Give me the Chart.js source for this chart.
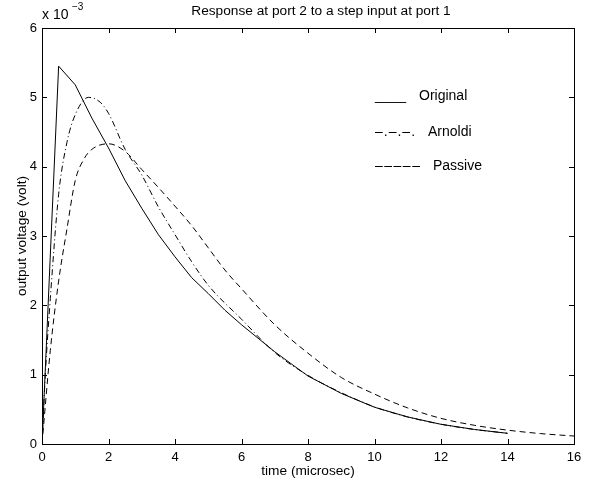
<!DOCTYPE html>
<html>
<head>
<meta charset="utf-8">
<script src="https://cdn.jsdelivr.net/npm/chart.js@4"></script>
<style>
  html, body { margin: 0; padding: 0; background: #fff; }
  #wrap { width: 595px; height: 485px; }
</style>
</head>
<body>
<div id="wrap"><canvas id="rc" width="595" height="485"></canvas></div>
<script>
// values (voltage in units of 1e-3 volt)
const timeOrig = [0, 0.5, 1, 1.5, 2, 2.5, 3, 3.5, 4, 4.5, 5, 5.5, 6, 7, 8, 9, 10, 11, 12, 13, 14];
const voltOrig = [0, 5.45, 5.18, 4.70, 4.27, 3.80, 3.40, 3.02, 2.70, 2.40, 2.17, 1.93, 1.72, 1.33, 0.98, 0.73, 0.53, 0.39, 0.284, 0.21, 0.154];

const timeArn = [0, 0.1, 0.25, 0.5, 0.75, 1, 1.4, 1.75, 2, 2.5, 3, 3.5, 4, 4.5, 5, 6, 7, 8, 9, 10, 11, 12, 13, 14];
const voltArn = [0, 1.0, 2.1, 3.6, 4.35, 4.75, 5.0, 4.93, 4.77, 4.25, 3.88, 3.42, 3.02, 2.63, 2.29, 1.80, 1.32, 0.99, 0.74, 0.535, 0.39, 0.285, 0.21, 0.155];

const timePas = [0, 0.25, 0.5, 0.75, 1, 1.25, 1.5, 2, 2.5, 3, 3.5, 4, 4.5, 5, 5.5, 6, 7, 8, 9, 10, 11, 12, 13, 14, 15, 16];
const voltPas = [0, 1.35, 2.35, 3.1, 3.8, 4.1, 4.25, 4.33, 4.22, 3.96, 3.70, 3.43, 3.15, 2.83, 2.51, 2.24, 1.72, 1.31, 0.96, 0.72, 0.52, 0.37, 0.27, 0.20, 0.15, 0.115];

const xTicks = [0, 2, 4, 6, 8, 10, 12, 14, 16];
const yTicks = [0, 1, 2, 3, 4, 5, 6];

const legendNames = ["Original", "Arnoldi", "Passive"];
const legendMarks = ["____", "\u2013.\u2013.\u2013.", "\u2013\u2013\u2013\u2013\u2013"];

const FONT = "'Liberation Sans', Arial, Helvetica, sans-serif";

function pts(xs, ys) {
  return xs.map((x, i) => ({ x: x, y: ys[i] }));
}

// box, inward ticks and texts like the matlab figure
const decor = {
  id: "decor",
  afterDraw(chart) {
    const ctx = chart.ctx;
    const a = chart.chartArea;
    const xs = chart.scales.x;
    const ys = chart.scales.y;
    ctx.save();
    ctx.strokeStyle = "#000";
    ctx.lineWidth = 1;
    ctx.strokeRect(a.left + 0.5, a.top + 0.5, a.right - a.left, a.bottom - a.top);
    ctx.beginPath();
    xTicks.forEach((v) => {
      const px = Math.round(xs.getPixelForValue(v)) + 0.5;
      ctx.moveTo(px, a.bottom); ctx.lineTo(px, a.bottom - 5);
      ctx.moveTo(px, a.top); ctx.lineTo(px, a.top + 5);
    });
    yTicks.forEach((v) => {
      const py = Math.round(ys.getPixelForValue(v)) + 0.5;
      ctx.moveTo(a.left, py); ctx.lineTo(a.left + 5, py);
      ctx.moveTo(a.right, py); ctx.lineTo(a.right - 5, py);
    });
    ctx.stroke();

    ctx.fillStyle = "#000";
    ctx.textBaseline = "middle";
    // title
    ctx.font = "13.7px " + FONT;
    ctx.textAlign = "center";
    ctx.fillText("Response at port 2 to a step input at port 1", 321, 11);
    // x label
    ctx.fillText("time (microsec)", 308, 471);
    // y label
    ctx.save();
    ctx.translate(22, 236);
    ctx.rotate(-Math.PI / 2);
    ctx.fillText("output voltage (volt)", 0, 0);
    ctx.restore();
    // exponent
    ctx.textAlign = "left";
    ctx.font = "14px " + FONT;
    ctx.fillText("x 10", 42, 15);
    ctx.font = "10px " + FONT;
    ctx.fillText("\u22123", 72, 7);

    // legend
    ctx.font = "14px " + FONT;
    const textX = [419, 428, 433];
    const rowY = [96, 132, 166];
    const spacing = ["0px", "1px", "1.5px"];
    legendNames.forEach((name, i) => {
      ctx.letterSpacing = spacing[i];
      ctx.fillText(legendMarks[i], 375, rowY[i]);
      ctx.letterSpacing = "0px";
      ctx.fillText(name, textX[i], rowY[i]);
    });
    ctx.restore();
  }
};

const lineBase = {
  borderColor: "#000",
  borderWidth: 1,
  pointRadius: 0,
  fill: false,
};

new Chart(document.getElementById("rc"), {
  type: "line",
  data: {
    datasets: [
      Object.assign({ label: legendNames[0], data: pts(timeOrig, voltOrig), tension: 0 }, lineBase),
      Object.assign({ label: legendNames[1], data: pts(timeArn, voltArn), cubicInterpolationMode: "monotone", borderDash: [6, 3, 1, 3] }, lineBase),
      Object.assign({ label: legendNames[2], data: pts(timePas, voltPas), cubicInterpolationMode: "monotone", borderDash: [6, 4] }, lineBase),
    ],
  },
  options: {
    responsive: false,
    animation: false,
    layout: { padding: { top: 28, right: 21, left: 0, bottom: 0 } },
    plugins: { legend: { display: false }, tooltip: { enabled: false } },
    scales: {
      x: {
        type: "linear",
        min: 0,
        max: 16,
        afterFit: (s) => { s.height = 41; },
        afterBuildTicks: (s) => { s.ticks = xTicks.map((v) => ({ value: v })); },
        grid: { display: false, drawTicks: false },
        border: { display: false },
        ticks: { padding: 6, color: "#000", font: { family: FONT, size: 13 }, maxRotation: 0 },
      },
      y: {
        type: "linear",
        min: 0,
        max: 6,
        afterFit: (s) => { s.width = 42; },
        afterBuildTicks: (s) => { s.ticks = yTicks.map((v) => ({ value: v })); },
        grid: { display: false, drawTicks: false },
        border: { display: false },
        ticks: { padding: 5, color: "#000", font: { family: FONT, size: 13 } },
      },
    },
  },
  plugins: [decor],
});
</script>
</body>
</html>
